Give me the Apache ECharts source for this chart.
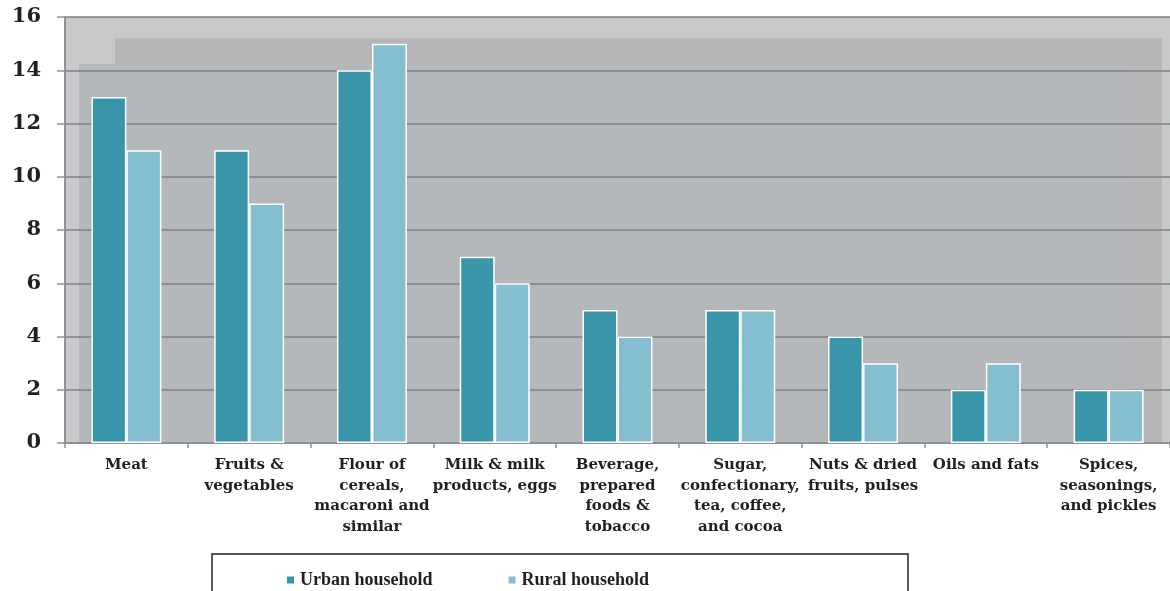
<!DOCTYPE html>
<html>
<head>
<meta charset="utf-8">
<script src="https://cdn.jsdelivr.net/npm/echarts@6/dist/echarts.min.js"></script>
<style>
  html, body { margin: 0; padding: 0; background: #fff; }
  #chart { width: 1170px; height: 591px; }
</style>
</head>
<body>
<div id="chart"></div>
<script>
const categories = [
  'Meat',
  'Fruits &\nvegetables',
  'Flour of\ncereals,\nmacaroni and\nsimilar',
  'Milk & milk\nproducts, eggs',
  'Beverage,\nprepared\nfoods &\ntobacco',
  'Sugar,\nconfectionary,\ntea, coffee,\nand cocoa',
  'Nuts & dried\nfruits, pulses',
  'Oils and fats',
  'Spices,\nseasonings,\nand pickles'
];
const urban = [13, 11, 14, 7, 5, 5, 4, 2, 2];
const rural = [11, 9, 15, 6, 4, 5, 3, 3, 2];

const font = '"DejaVu Serif", "Liberation Serif", serif';
const legendFont = '"Liberation Serif", "DejaVu Serif", serif';
const textColor = '#231f20';

const chart = echarts.init(document.getElementById('chart'));

const option = {
  backgroundColor: '#ffffff',
  animation: false,
  grid: { left: 65, right: 0, top: 17, bottom: 148 },
  graphic: [
    // layered plot background
    { type: 'rect', z: -10, shape: { x: 65, y: 17, width: 1105, height: 426 }, style: { fill: '#c8c9cb' } },
    { type: 'rect', z: -9, shape: { x: 115, y: 38, width: 1047, height: 405 }, style: { fill: '#b6b6b8' } },
    { type: 'rect', z: -8, shape: { x: 79, y: 64, width: 1049, height: 379 }, style: { fill: '#b4b8bb' } },
    // legend frame
    { type: 'rect', z: 10, shape: { x: 212, y: 554, width: 696, height: 60 }, style: { fill: 'none', stroke: '#231f20', lineWidth: 1.5 } }
  ],
  legend: {
    left: 280,
    top: 566,
    itemWidth: 9,
    itemHeight: 9,
    itemGap: 74,
    icon: 'rect',
    textStyle: { fontFamily: legendFont, fontSize: 18, fontWeight: 'bold', color: textColor },
    data: ['Urban household', 'Rural household']
  },
  xAxis: {
    type: 'category',
    data: categories,
    axisLine: { lineStyle: { color: '#8e9093', width: 2 } },
    axisTick: { show: true, length: 5, lineStyle: { color: '#8e9093', width: 1.5 } },
    axisLabel: {
      interval: 0,
      margin: 12,
      fontFamily: font,
      fontSize: 15,
      fontWeight: 'bold',
      color: textColor,
      lineHeight: 20.5,
      align: 'center'
    }
  },
  yAxis: {
    type: 'value',
    min: 0,
    max: 16,
    interval: 2,
    axisLine: { show: true, lineStyle: { color: '#8e9093', width: 2 } },
    axisTick: { show: true, length: 8, lineStyle: { color: '#8e9093', width: 1.5 } },
    splitLine: { lineStyle: { color: '#7e8083', width: 1.5 } },
    axisLabel: {
      margin: 24,
      fontFamily: font,
      fontSize: 21,
      fontWeight: 'bold',
      color: textColor
    }
  },
  series: [
    {
      name: 'Urban household',
      type: 'bar',
      data: urban,
      barWidth: '28.5%',
      barGap: '0%',
      itemStyle: { color: '#3995aa', borderColor: '#ffffff', borderWidth: 1.5 }
    },
    {
      name: 'Rural household',
      type: 'bar',
      data: rural,
      barWidth: '28.5%',
      itemStyle: { color: '#85bfcf', borderColor: '#ffffff', borderWidth: 1.5 }
    }
  ]
};

chart.setOption(option);
</script>
</body>
</html>
